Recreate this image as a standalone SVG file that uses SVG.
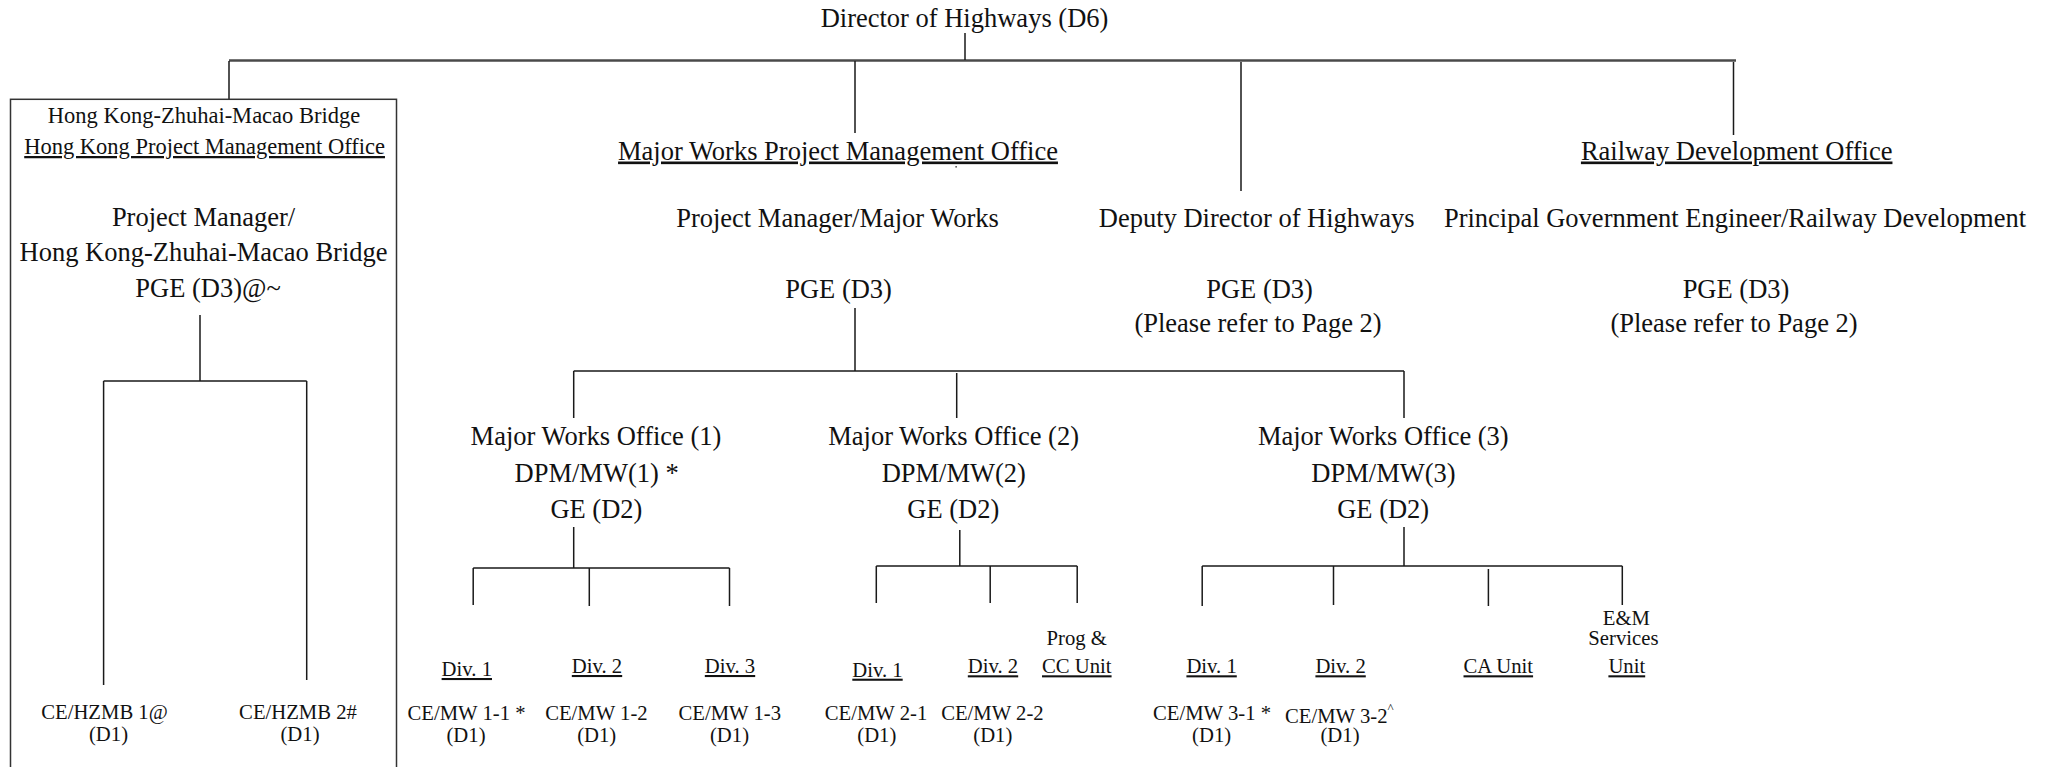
<svg xmlns="http://www.w3.org/2000/svg" width="2051" height="767" viewBox="0 0 2051 767">
  <style>
    text { font-family: "Liberation Serif", "Times New Roman", serif; fill: #111; text-anchor: middle; }
    .l { font-size: 26.5px; }
    .m { font-size: 22.5px; }
    .s { font-size: 20.7px; }
    .u { text-decoration: underline; }
    .ln { stroke: #1a1a1a; stroke-width: 1.5; fill: none; }
    .bar { stroke: #4a4a4a; stroke-width: 2.5; fill: none; }
  </style>
  <rect width="2051" height="767" fill="#ffffff"/>

  <!-- connectors -->
  <g id="connectors">
    <path class="bar" d="M229 60.5 H1736"/>
    <path class="ln" d="M965 33 V60 M229 61 V99 M855 61 V133 M1241 62 V191 M1733.5 62 V135"/>
    <!-- HZMB office -->
    <path class="ln" d="M200 315 V381 M103.6 381 H306.7 M103.6 381 V685 M306.7 381 V680"/>
    <!-- Major Works offices -->
    <path class="ln" d="M855 308 V371 M573.7 371 H1404 M573.7 371 V418 M956.7 373 V418 M1404 371 V418"/>
    <path class="ln" d="M573.7 527 V568 M473.2 568 H729.5 M473.2 568 V605 M589.3 568 V606 M729.5 568 V606"/>
    <path class="ln" d="M959.8 530 V566 M876.3 566 H1077.2 M876.3 566 V603 M990.2 566 V603 M1077.2 566 V603"/>
    <path class="ln" d="M1404 527 V566 M1202.2 566 H1622.3 M1202.2 566 V606 M1333.5 566 V605 M1488.4 569 V606 M1622.3 566 V605"/>
    <rect x="955.5" y="166" width="1.2" height="1.6" fill="#222"/>
  </g>

  <g id="director">
    <text class="l" x="964.5" y="27">Director of Highways (D6)</text>
  </g>

  <g id="hzmb-office">
    <rect x="10.5" y="99.3" width="386" height="700" fill="none" stroke="#333" stroke-width="1.5"/>
    <text class="m" x="204" y="123.3">Hong Kong-Zhuhai-Macao Bridge</text>
    <text class="m u" x="204.6" y="154">Hong Kong Project Management Office</text>
    <text class="l" x="203.5" y="226">Project Manager/</text>
    <text class="l" x="203.6" y="261">Hong Kong-Zhuhai-Macao Bridge</text>
    <text class="l" x="208" y="296.7">PGE (D3)@~</text>
  </g>
  <g id="ce-hzmb-1">
    <text class="s" x="104.5" y="719">CE/HZMB 1@</text>
    <text class="s" x="108.5" y="740.7">(D1)</text>
  </g>
  <g id="ce-hzmb-2">
    <text class="s" x="298" y="719">CE/HZMB 2#</text>
    <text class="s" x="300" y="740.7">(D1)</text>
  </g>

  <g id="mwpmo">
    <text class="l u" x="838" y="159.5">Major Works Project Management Office</text>
    <text class="l" x="837.5" y="226.7">Project Manager/Major Works</text>
    <text class="l" x="838.6" y="297.7">PGE (D3)</text>
  </g>

  <g id="deputy-director">
    <text class="l" x="1256.7" y="226.7">Deputy Director of Highways</text>
    <text class="l" x="1259.6" y="297.7">PGE (D3)</text>
    <text class="l" x="1258" y="332">(Please refer to Page 2)</text>
  </g>

  <g id="railway-office">
    <text class="l u" x="1736.7" y="159.5">Railway Development Office</text>
    <text class="l" x="1735" y="226.7">Principal Government Engineer/Railway Development</text>
    <text class="l" x="1736" y="297.7">PGE (D3)</text>
    <text class="l" x="1734" y="332">(Please refer to Page 2)</text>
  </g>

  <g id="mwo-1">
    <text class="l" x="596" y="445">Major Works Office (1)</text>
    <text class="l" x="596.6" y="481.7">DPM/MW(1) *</text>
    <text class="l" x="596.4" y="518.3">GE (D2)</text>
  </g>
  <g id="mwo-2">
    <text class="l" x="953.6" y="445">Major Works Office (2)</text>
    <text class="l" x="953.8" y="481.7">DPM/MW(2)</text>
    <text class="l" x="953.3" y="518.3">GE (D2)</text>
  </g>
  <g id="mwo-3">
    <text class="l" x="1383.3" y="445">Major Works Office (3)</text>
    <text class="l" x="1383.5" y="481.7">DPM/MW(3)</text>
    <text class="l" x="1383.2" y="518.3">GE (D2)</text>
  </g>

  <g id="mw1-div1">
    <text class="s u" x="466.8" y="676">Div. 1</text>
    <text class="s" x="466.5" y="720">CE/MW 1-1 *</text>
    <text class="s" x="466" y="742.3">(D1)</text>
  </g>
  <g id="mw1-div2">
    <text class="s u" x="597" y="673">Div. 2</text>
    <text class="s" x="596.4" y="720">CE/MW 1-2</text>
    <text class="s" x="596.7" y="742.3">(D1)</text>
  </g>
  <g id="mw1-div3">
    <text class="s u" x="730" y="673">Div. 3</text>
    <text class="s" x="729.8" y="720">CE/MW 1-3</text>
    <text class="s" x="729.5" y="742.3">(D1)</text>
  </g>

  <g id="mw2-div1">
    <text class="s u" x="877.5" y="676.7">Div. 1</text>
    <text class="s" x="876" y="720">CE/MW 2-1</text>
    <text class="s" x="876.8" y="742.3">(D1)</text>
  </g>
  <g id="mw2-div2">
    <text class="s u" x="993" y="673.3">Div. 2</text>
    <text class="s" x="992.4" y="720">CE/MW 2-2</text>
    <text class="s" x="992.8" y="742.3">(D1)</text>
  </g>
  <g id="mw2-prog-cc">
    <text class="s" x="1076.8" y="645">Prog &amp;</text>
    <text class="s u" x="1076.8" y="673.3">CC Unit</text>
  </g>

  <g id="mw3-div1">
    <text class="s u" x="1211.6" y="673.3">Div. 1</text>
    <text class="s" x="1212" y="720">CE/MW 3-1 *</text>
    <text class="s" x="1211.6" y="742.3">(D1)</text>
  </g>
  <g id="mw3-div2">
    <text class="s u" x="1340.6" y="673.3">Div. 2</text>
    <text class="s" x="1285" y="723" style="text-anchor:start">CE/MW 3-2<tspan dy="-11" font-size="13">^</tspan></text>
    <text class="s" x="1340" y="742.3">(D1)</text>
  </g>
  <g id="mw3-ca">
    <text class="s u" x="1498.3" y="673.3">CA Unit</text>
  </g>
  <g id="mw3-em">
    <text class="s" x="1626.4" y="625">E&amp;M</text>
    <text class="s" x="1623.4" y="645">Services</text>
    <text class="s u" x="1626.8" y="673.3">Unit</text>
  </g>
</svg>
